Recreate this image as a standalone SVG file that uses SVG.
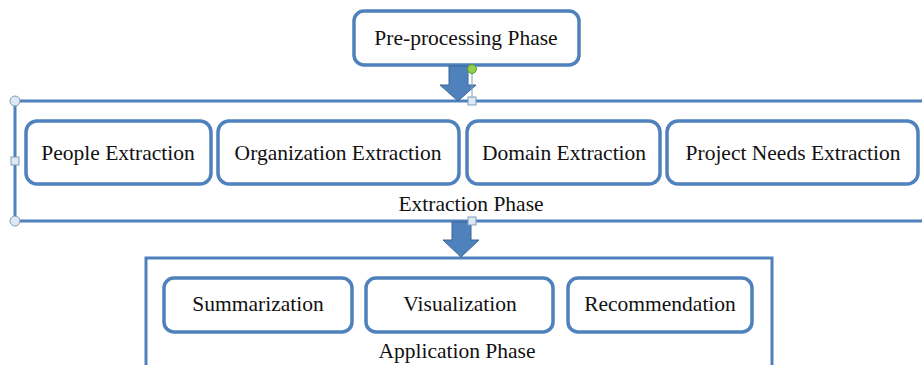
<svg xmlns="http://www.w3.org/2000/svg" width="922" height="365" viewBox="0 0 922 365">
<style>
.box{fill:#fff;stroke:#4F81BD;stroke-width:3.5}
.cont{fill:#fff;stroke:#4F81BD;stroke-width:3}
.t{font-family:"Liberation Serif",serif;font-size:21.5px;fill:#111;text-anchor:middle}
.arr{fill:#4F81BD;stroke:#3A6699;stroke-width:1}
.h{fill:#DCE9F5;stroke:#7F9DB9;stroke-width:1}
</style>
<rect width="922" height="365" fill="#fff"/>
<g id="extraction-phase">
<rect class="cont" x="15" y="101" width="920" height="120"/>
<text class="t" x="471" y="211">Extraction Phase</text>
</g>
<g id="application-phase">
<rect class="cont" x="146" y="258" width="626" height="120"/>
<text class="t" x="457" y="358">Application Phase</text>
</g>
<g id="pre-processing">
<rect class="box" x="354" y="11" width="225" height="54" rx="10"/>
<text class="t" x="466" y="45">Pre-processing Phase</text>
</g>
<g id="people">
<rect class="box" x="26" y="121" width="185" height="63" rx="11"/>
<text class="t" x="118" y="160">People Extraction</text>
</g>
<g id="organization">
<rect class="box" x="218" y="121" width="241" height="63" rx="11"/>
<text class="t" x="338" y="160">Organization Extraction</text>
</g>
<g id="domain">
<rect class="box" x="467" y="121" width="193" height="63" rx="11"/>
<text class="t" x="564" y="160">Domain Extraction</text>
</g>
<g id="project-needs">
<rect class="box" x="667" y="121" width="251" height="63" rx="11"/>
<text class="t" x="793" y="160">Project Needs Extraction</text>
</g>
<g id="summarization">
<rect class="box" x="164" y="278" width="188" height="54" rx="10"/>
<text class="t" x="258" y="311">Summarization</text>
</g>
<g id="visualization">
<rect class="box" x="366" y="278" width="187" height="54" rx="10"/>
<text class="t" x="460" y="311">Visualization</text>
</g>
<g id="recommendation">
<rect class="box" x="568" y="278" width="184" height="54" rx="10"/>
<text class="t" x="660" y="311">Recommendation</text>
</g>
<g id="connectors">
<polygon class="arr" points="449,66 468,66 468,85 476,85 458,101 440,85 449,85"/>
<polygon class="arr" points="452,222 471,222 471,240 479,240 461,257 443,240 452,240"/>
</g>
<g id="selection-handles">
<line x1="472" y1="70" x2="472" y2="100" stroke="#7F9DB9" stroke-width="1"/>
<circle cx="472" cy="69" r="4.5" fill="#8FD14F" stroke="#5A9A2A" stroke-width="1"/>
<rect class="h" x="468" y="97" width="8" height="8"/>
<rect class="h" x="468" y="217" width="8" height="8"/>
<rect class="h" x="11" y="157" width="8" height="8"/>
<circle class="h" cx="15" cy="101" r="5"/>
<circle class="h" cx="15" cy="221" r="5"/>
</g>
</svg>
